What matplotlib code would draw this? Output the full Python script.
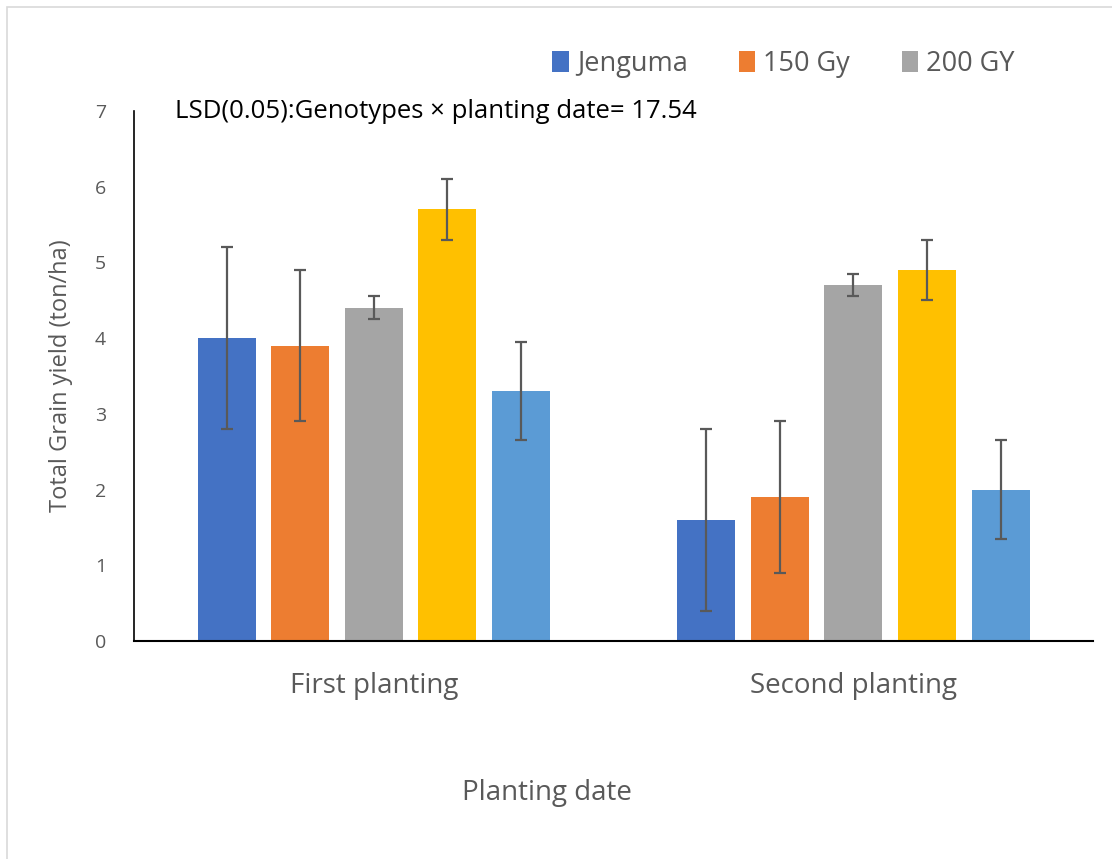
import matplotlib.pyplot as plt
from matplotlib.patches import Rectangle
import numpy as np

plt.rcParams['font.family'] = ['Open Sans', 'DejaVu Sans']

# data
groups = ["First planting", "Second planting"]
series = ["Jenguma", "150 Gy", "200 GY", "Series 4", "Series 5"]
colors = ["#4472C4", "#ED7D31", "#A5A5A5", "#FFC000", "#5B9BD5"]
yield_first = [4.0, 3.9, 4.4, 5.7, 3.3]
yield_second = [1.6, 1.9, 4.7, 4.9, 2.0]
err_first = [1.2, 1.0, 0.15, 0.4, 0.65]
err_second = [1.2, 1.0, 0.15, 0.4, 0.65]

values = np.array([yield_first, yield_second]).T
errors = np.array([err_first, err_second]).T

W, H = 1112, 859
fig = plt.figure(figsize=(W / 100, H / 100), dpi=100)
ax = fig.add_axes([0.1205, 0.2538, 0.8625, 0.617])

# chart area border (Excel style, cut off at right/bottom)
fig.patches.append(Rectangle((7 / W, -0.1), 1.2, 0.1 + (H - 7) / H,
                             transform=fig.transFigure, fill=False,
                             edgecolor="#d9d9d9", linewidth=1.2))

x = np.arange(len(groups))
width = 0.121
step = 0.1535
for i, name in enumerate(series):
    pos = x + (i - 2) * step
    label = name if i < 3 else "_nolegend_"
    ax.bar(pos, values[i], width, color=colors[i], label=label, zorder=2)
    ax.errorbar(pos, values[i], yerr=errors[i], fmt="none", ecolor="#595959",
                elinewidth=1.6, capsize=4.5, capthick=1.6, zorder=3)

ax.set_xlim(-0.5, 1.5)
ax.set_ylim(0, 7)
ax.set_yticks(range(0, 8))
ax.set_xticks(x)
ax.set_xticklabels(groups, fontsize=20, color="#595959")
ax.tick_params(axis="y", labelsize=14, labelcolor="#595959", length=0, pad=20)
ax.tick_params(axis="x", length=0, pad=22)

for s in ["top", "right"]:
    ax.spines[s].set_visible(False)
ax.spines["left"].set_color("black")
ax.spines["bottom"].set_color("black")
ax.spines["left"].set_linewidth(1.2)
ax.spines["bottom"].set_linewidth(1.5)

ax.set_ylabel("Total Grain yield (ton/ha)", fontsize=17, color="#595959", labelpad=16)
fig.text(547 / W, 1 - 793 / H, "Planting date", fontsize=20, color="#595959",
         ha="center", va="center")

fig.text(175 / W, 1 - 111 / H, "LSD(0.05):Genotypes × planting date= 17.54",
         fontsize=18.5, color="black", va="center", ha="left")

ax.legend(loc="center left", bbox_to_anchor=(528 / W, 1 - 64 / H),
          bbox_transform=fig.transFigure, ncol=3, frameon=False, fontsize=19.5,
          handlelength=0.6, handleheight=0.8, handletextpad=0.3, columnspacing=1.9,
          labelcolor="#595959")

fig.savefig("out.png", dpi=100)
